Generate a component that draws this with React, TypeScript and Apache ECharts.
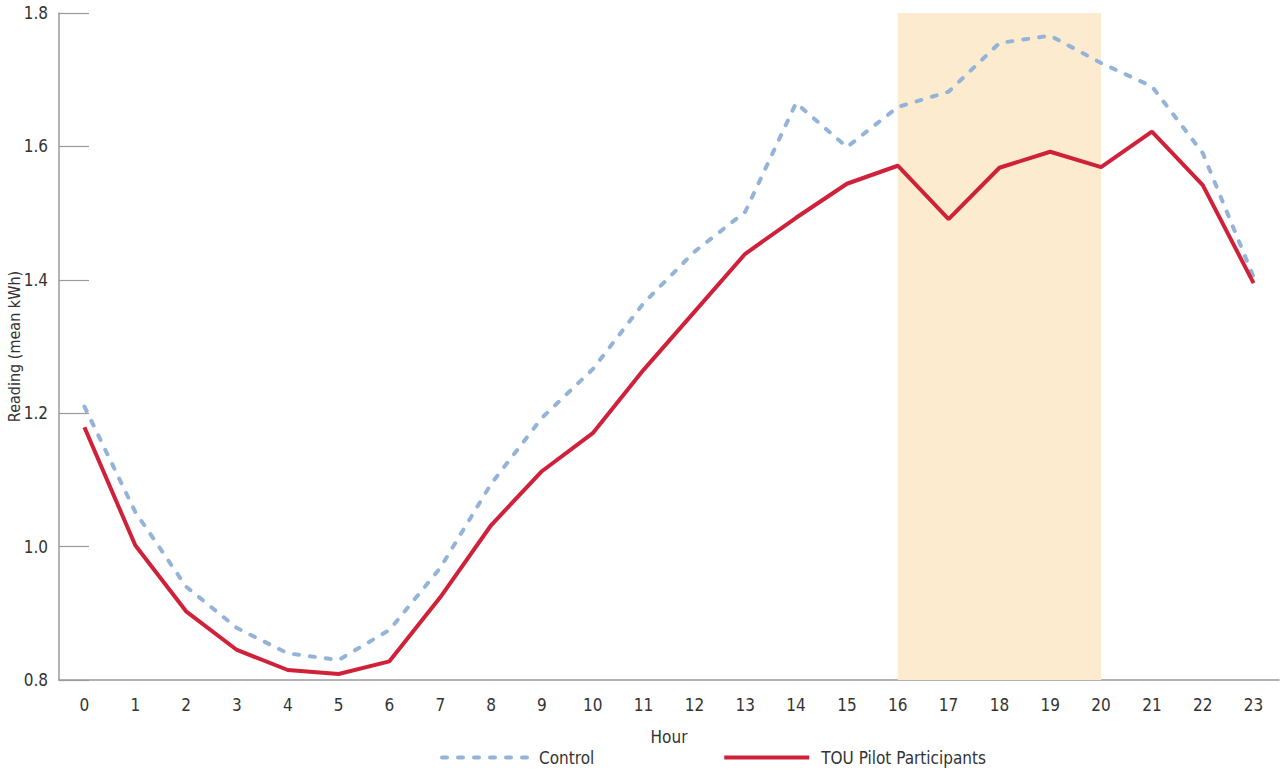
import React, { useEffect, useRef } from "react";
import * as echarts from "echarts";

// Hour of day
const hours: string[] = [
  "0", "1", "2", "3", "4", "5", "6", "7", "8", "9", "10", "11",
  "12", "13", "14", "15", "16", "17", "18", "19", "20", "21", "22", "23",
];

// Mean hourly reading (kWh), control group
const controlValues: number[] = [
  1.21, 1.052, 0.94, 0.878, 0.84, 0.83, 0.875, 0.968, 1.094, 1.193, 1.266, 1.365,
  1.442, 1.502, 1.665, 1.599, 1.659, 1.682, 1.755, 1.766, 1.725, 1.69, 1.59, 1.404,
];

// Mean hourly reading (kWh), TOU pilot participants
const touValues: number[] = [
  1.179, 1.002, 0.903, 0.845, 0.815, 0.809, 0.828, 0.924, 1.032, 1.113, 1.17, 1.265,
  1.352, 1.439, 1.493, 1.544, 1.571, 1.491, 1.568, 1.592, 1.569, 1.622, 1.542, 1.395,
];

// Peak period
const peakStart = "16";
const peakEnd = "20";

const yTicks = { min: 0.8, max: 1.8, interval: 0.2 };

const FONT = "'DejaVu Sans Condensed', 'Liberation Sans Narrow', 'Roboto Condensed', sans-serif";
const FONT_SIZE = 17;

const CONTROL_COLOR = "#93b4d8";
const TOU_COLOR = "#d0213b";
const CONTROL_DASH = [5, 11];

export default function App() {
  const ref = useRef<HTMLDivElement>(null);

  useEffect(() => {
    document.body.style.margin = "0";
    if (!ref.current) return;
    const chart = echarts.init(ref.current, null, { renderer: "svg" });
    chart.setOption({
      animation: false,
      textStyle: { fontFamily: FONT, color: "#333" },
      grid: { left: 59, right: 1, top: 13, bottom: 95, outerBoundsMode: "none", containLabel: false },
      legend: {
        left: 440,
        top: 749,
        padding: 0,
        itemWidth: 85,
        itemHeight: 14,
        itemGap: 128,
        itemStyle: { opacity: 0 },
        textStyle: { fontFamily: FONT, fontSize: FONT_SIZE, color: "#333", padding: [0, 0, 0, 7] },
        data: [
          {
            name: "Control",
            lineStyle: { color: CONTROL_COLOR, width: 4, type: CONTROL_DASH, cap: "round" },
          },
          {
            name: "TOU Pilot Participants",
            lineStyle: { color: TOU_COLOR, width: 4 },
          },
        ],
      },
      xAxis: {
        type: "category",
        data: hours,
        boundaryGap: true,
        name: "Hour",
        nameLocation: "middle",
        nameGap: 48,
        nameMoveOverlap: false,
        nameTextStyle: { fontFamily: FONT, fontSize: FONT_SIZE, color: "#333" },
        axisLine: { lineStyle: { color: "#9a9a9a", width: 1.5 } },
        axisTick: { show: false },
        axisLabel: { fontFamily: FONT, fontSize: FONT_SIZE, color: "#333", margin: 16 },
      },
      yAxis: {
        type: "value",
        min: yTicks.min,
        max: yTicks.max,
        interval: yTicks.interval,
        name: "Reading (mean kWh)",
        nameLocation: "middle",
        nameGap: 37,
        nameMoveOverlap: false,
        nameTextStyle: { fontFamily: FONT, fontSize: 16, color: "#333" },
        axisLine: { show: true, lineStyle: { color: "#9a9a9a", width: 1.5 } },
        axisTick: { show: true, inside: true, length: 30, lineStyle: { color: "#9a9a9a", width: 1.2 } },
        splitLine: { show: false },
        axisLabel: {
          fontFamily: FONT,
          fontSize: FONT_SIZE,
          color: "#333",
          margin: 11,
          formatter: (v: number) => v.toFixed(1),
        },
      },
      series: [
        {
          name: "Control",
          type: "line",
          data: controlValues,
          symbol: "none",
          z: 3,
          lineStyle: { color: CONTROL_COLOR, width: 4, type: CONTROL_DASH, cap: "round" },
          itemStyle: { color: CONTROL_COLOR },
          markArea: {
            silent: true,
            itemStyle: { color: "#fdebd0" },
            data: [[{ xAxis: peakStart }, { xAxis: peakEnd }]],
          },
        },
        {
          name: "TOU Pilot Participants",
          type: "line",
          data: touValues,
          symbol: "none",
          z: 4,
          lineStyle: { color: TOU_COLOR, width: 4 },
          itemStyle: { color: TOU_COLOR },
        },
      ],
    });
    return () => chart.dispose();
  }, []);

  return <div ref={ref} style={{ width: 1280, height: 775 }} />;
}
